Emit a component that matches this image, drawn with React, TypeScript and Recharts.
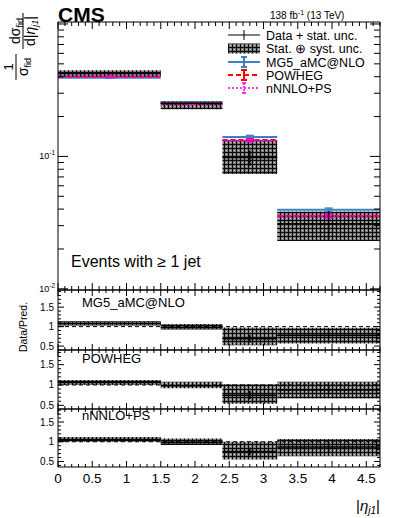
import React from "react"
import {
  ComposedChart,
  XAxis,
  YAxis,
  Scatter,
  ErrorBar,
  ReferenceArea,
  ReferenceLine,
  Legend,
} from "recharts"

const FONT = "'Liberation Sans', Arial, Helvetica, sans-serif"
const W = 399

// bins in |eta_j1|
const binLo = [0, 1.5, 2.4, 3.2]
const binHi = [1.5, 2.4, 3.2, 4.7]

// measured normalised cross section
const dataVal = [0.422, 0.252, 0.098, 0.031]
const dataStat = [0.005, 0.004, 0.013, 0.0075]
const totLo = [0.398, 0.227, 0.0737, 0.023]
const totHi = [0.447, 0.262, 0.1325, 0.0384]

// predictions
const mg5Val = [0.392, 0.255, 0.14, 0.0395]
const mg5Err = [0.003, 0.002, 0.004, 0.0012]
const powhegVal = [0.4, 0.252, 0.133, 0.0356]
const powhegErr = [0.003, 0.002, 0.003, 0.001]
const nnloVal = [0.4, 0.25, 0.132, 0.0354]
const nnloErr = [0.002, 0.002, 0.003, 0.001]

// data / prediction
const ratioMg5 = [1.08, 0.98, 0.69, 0.78]
const ratioMg5Lo = [1.03, 0.925, 0.525, 0.57]
const ratioMg5Hi = [1.14, 1.07, 0.975, 0.97]
const ratioPowheg = [1.06, 0.98, 0.75, 0.88]
const ratioPowhegLo = [1.0, 0.92, 0.54, 0.67]
const ratioPowhegHi = [1.12, 1.08, 1.02, 1.08]
const ratioNnlo = [1.06, 0.98, 0.75, 0.87]
const ratioNnloLo = [1.0, 0.92, 0.55, 0.63]
const ratioNnloHi = [1.12, 1.08, 1.0, 1.07]
const ratioStat = [0.012, 0.016, 0.1, 0.13]

// ticks
const xTicks = Array.from({ length: 48 }, (_, i) => i / 10)
const mainYTicks = [
  0.01, 0.02, 0.03, 0.04, 0.05, 0.06, 0.07, 0.08, 0.09,
  0.1, 0.2, 0.3, 0.4, 0.5, 0.6, 0.7, 0.8, 0.9, 1,
]
const ratioYTicks = [0.4, 0.5, 0.6, 0.7, 0.8, 0.9, 1, 1.1, 1.2, 1.3, 1.4, 1.5, 1.6, 1.7, 1.8, 1.9]

const legendLabels = ["Data + stat. unc.", "Stat. \u2295 syst. unc.", "MG5_aMC@NLO", "POWHEG", "nNNLO+PS"]

const MG5_COLOR = "#3f80c0"
const POWHEG_COLOR = "#ff0000"
const NNLO_COLOR = "#ee00ee"

const isMult = (v: number, step: number) => Math.abs(v / step - Math.round(v / step)) < 1e-6
const fmt = (v: number) => String(Math.round(v * 10) / 10)

function XTick(props: any) {
  const { x, y, payload, side, big, small, labels } = props
  const v = payload.value
  const major = isMult(v, 0.5)
  const d = side === "top" ? 1 : -1
  return (
    <g>
      <line x1={x} x2={x} y1={y} y2={y + d * (major ? big : small)} stroke="#000" />
      {labels && major && (
        <text x={x} y={y + 16} textAnchor="middle" fontSize={13.5} fontFamily={FONT} fill="#000">
          {fmt(v)}
        </text>
      )}
    </g>
  )
}

function LogYTick(props: any) {
  const { x, y, payload, side, labels } = props
  const v = payload.value
  const lg = Math.log10(v)
  const major = Math.abs(lg - Math.round(lg)) < 1e-6
  const d = side === "left" ? 1 : -1
  return (
    <g>
      <line x1={x} x2={x + d * (major ? 10 : 6)} y1={y} y2={y} stroke="#000" />
      {labels && major && v < 0.5 && (
        <text x={x - 3} y={y + 3} textAnchor="end" fontSize={9} fontFamily={FONT} fill="#000">
          10<tspan dy={-4} fontSize={6.5}>{Math.round(lg)}</tspan>
        </text>
      )}
    </g>
  )
}

function RatioYTick(props: any) {
  const { x, y, payload, side, labels } = props
  const v = payload.value
  const major = isMult(v, 0.5)
  const d = side === "left" ? 1 : -1
  return (
    <g>
      <line x1={x} x2={x + d * (major ? 6 : 3)} y1={y} y2={y} stroke="#000" />
      {labels && major && (
        <text x={x - 4} y={y + 3.5} textAnchor="end" fontSize={10} fontFamily={FONT} fill="#000">
          {fmt(v)}
        </text>
      )}
    </g>
  )
}

const Empty = () => <g />

function LegendBox() {
  const rows = [8, 21.5, 35, 48, 61]
  return (
    <svg width={170} height={72} style={{ display: "block" }}>
      {rows.map((ry, i) => (
        <g key={i}>
          {i === 0 && (
            <g stroke="#000">
              <line x1={4} x2={36} y1={ry} y2={ry} />
              <line x1={20} x2={20} y1={ry - 5} y2={ry + 5} />
            </g>
          )}
          {i === 1 && <rect x={4} y={ry - 5} width={32} height={10} fill="url(#statSyst)" />}
          {i === 2 && (
            <g stroke={MG5_COLOR} strokeWidth={2}>
              <line x1={4} x2={36} y1={ry} y2={ry} />
              <line x1={20} x2={20} y1={ry - 5} y2={ry + 5} />
              <line x1={17} x2={23} y1={ry - 5} y2={ry - 5} />
              <line x1={17} x2={23} y1={ry + 5} y2={ry + 5} />
            </g>
          )}
          {i === 3 && (
            <g stroke={POWHEG_COLOR} strokeWidth={2}>
              <line x1={4} x2={36} y1={ry} y2={ry} strokeDasharray="5 3" />
              <line x1={20} x2={20} y1={ry - 5} y2={ry + 5} />
              <line x1={17} x2={23} y1={ry - 5} y2={ry - 5} />
              <line x1={17} x2={23} y1={ry + 5} y2={ry + 5} />
            </g>
          )}
          {i === 4 && (
            <g stroke={NNLO_COLOR} strokeWidth={1.5}>
              <line x1={4} x2={36} y1={ry} y2={ry} strokeDasharray="2 2" />
              <line x1={20} x2={20} y1={ry - 5} y2={ry + 5} strokeDasharray="2 1" />
              <line x1={18} x2={22} y1={ry - 5} y2={ry - 5} />
              <line x1={18} x2={22} y1={ry + 5} y2={ry + 5} />
            </g>
          )}
          <text x={42} y={ry + 4.5} fontSize={12.5} fontFamily={FONT} fill="#000">
            {legendLabels[i]}
          </text>
        </g>
      ))}
    </svg>
  )
}

function MainPlot() {
  const dataPts = binLo.map((lo, i) => ({
    x: (lo + binHi[i]) / 2,
    y: dataVal[i],
    ex: (binHi[i] - lo) / 2,
    ey: dataStat[i],
  }))
  const preds = [
    { val: mg5Val, err: mg5Err, color: MG5_COLOR, dash: undefined, w: 2 },
    { val: powhegVal, err: powhegErr, color: POWHEG_COLOR, dash: "5 3", w: 2 },
    { val: nnloVal, err: nnloErr, color: NNLO_COLOR, dash: "2 2", w: 2 },
  ]
  return (
    <div style={{ position: "absolute", left: 0, top: 0, width: W, height: 300 }}>
      <ComposedChart width={W} height={300} margin={{ top: 21, right: 0, bottom: 0, left: 0 }}>
        <XAxis
          xAxisId="top"
          orientation="top"
          type="number"
          dataKey="x"
          domain={[0, 4.7]}
          ticks={xTicks}
          interval={0}
          height={1}
          tickSize={0}
          tickMargin={0}
          tickLine={false}
          axisLine={{ stroke: "#000" }}
          allowDataOverflow
          tick={(p: any) => <XTick {...p} side="top" big={7} small={4} />}
        />
        <XAxis
          type="number"
          dataKey="x"
          domain={[0, 4.7]}
          ticks={xTicks}
          interval={0}
          height={10}
          tickSize={0}
          tickMargin={0}
          tickLine={false}
          axisLine={{ stroke: "#000" }}
          allowDataOverflow
          tick={(p: any) => <XTick {...p} side="bottom" big={7} small={4} />}
        />
        <YAxis
          type="number"
          dataKey="y"
          scale="log"
          domain={[0.0098, 1.035]}
          ticks={mainYTicks}
          interval={0}
          width={58}
          tickSize={0}
          tickMargin={0}
          tickLine={false}
          axisLine={{ stroke: "#000" }}
          allowDataOverflow
          tick={(p: any) => <LogYTick {...p} side="left" labels />}
        />
        <YAxis
          yAxisId="r"
          orientation="right"
          type="number"
          scale="log"
          domain={[0.0098, 1.035]}
          ticks={mainYTicks}
          interval={0}
          width={19}
          tickSize={0}
          tickMargin={0}
          tickLine={false}
          axisLine={{ stroke: "#000" }}
          allowDataOverflow
          tick={(p: any) => <LogYTick {...p} side="right" />}
        />
        {binLo.map((lo, i) => (
          <ReferenceArea
            key={"box" + i}
            x1={lo}
            x2={binHi[i]}
            y1={totLo[i]}
            y2={totHi[i]}
            fill="url(#statSyst)"
            fillOpacity={1}
            stroke="none"
          />
        ))}
        {preds.map((p, k) =>
          binLo.map((lo, i) => (
            <ReferenceLine
              key={"pl" + k + "-" + i}
              segment={[
                { x: lo, y: p.val[i] },
                { x: binHi[i], y: p.val[i] },
              ]}
              stroke={p.color}
              strokeWidth={p.w}
              strokeDasharray={p.dash}
            />
          ))
        )}
        {preds.map((p, k) => (
          <Scatter
            key={"pe" + k}
            data={binLo.map((lo, i) => ({ x: (lo + binHi[i]) / 2, y: p.val[i], ey: p.err[i] }))}
            shape={Empty}
            isAnimationActive={false}
          >
            <ErrorBar dataKey="ey" direction="y" width={4} stroke={p.color} strokeWidth={1.5} />
          </Scatter>
        ))}
        <Scatter data={dataPts} shape={Empty} isAnimationActive={false}>
          <ErrorBar dataKey="ex" direction="x" width={0} stroke="#000" strokeWidth={1.5} />
          <ErrorBar dataKey="ey" direction="y" width={0} stroke="#000" strokeWidth={1.5} />
        </Scatter>
        <Legend
          layout="vertical"
          align="center"
          verticalAlign="middle"
          wrapperStyle={{ left: 224, top: 27, width: 170, height: 72 }}
          content={() => <LegendBox />}
        />
      </ComposedChart>
    </div>
  )
}

function RatioPanel({ top, height, domain, center, lo, hi, bottomHeight, xLabels }: any) {
  const pts = binLo.map((l, i) => ({
    x: (l + binHi[i]) / 2,
    y: center[i],
    ex: (binHi[i] - l) / 2,
    ey: ratioStat[i],
  }))
  const yTicks = ratioYTicks.filter((t) => t >= domain[0] && t <= domain[1])
  return (
    <div style={{ position: "absolute", left: 0, top, width: W, height }}>
      <ComposedChart width={W} height={height} margin={{ top: 0, right: 0, bottom: 0, left: 0 }}>
        <XAxis
          xAxisId="top"
          orientation="top"
          type="number"
          dataKey="x"
          domain={[0, 4.7]}
          ticks={xTicks}
          interval={0}
          height={1}
          tickSize={0}
          tickMargin={0}
          tickLine={false}
          axisLine={{ stroke: "#000" }}
          allowDataOverflow
          tick={(p: any) => <XTick {...p} side="top" big={6} small={3} />}
        />
        <XAxis
          type="number"
          dataKey="x"
          domain={[0, 4.7]}
          ticks={xTicks}
          interval={0}
          height={bottomHeight}
          tickSize={0}
          tickMargin={0}
          tickLine={false}
          axisLine={{ stroke: "#000" }}
          allowDataOverflow
          tick={(p: any) => <XTick {...p} side="bottom" big={6} small={3} labels={xLabels} />}
        />
        <YAxis
          type="number"
          dataKey="y"
          domain={domain}
          ticks={yTicks}
          interval={0}
          width={58}
          tickSize={0}
          tickMargin={0}
          tickLine={false}
          axisLine={{ stroke: "#000" }}
          allowDataOverflow
          tick={(p: any) => <RatioYTick {...p} side="left" labels />}
        />
        <YAxis
          yAxisId="r"
          orientation="right"
          type="number"
          domain={domain}
          ticks={yTicks}
          interval={0}
          width={19}
          tickSize={0}
          tickMargin={0}
          tickLine={false}
          axisLine={{ stroke: "#000" }}
          allowDataOverflow
          tick={(p: any) => <RatioYTick {...p} side="right" />}
        />
        <ReferenceLine y={1} stroke="#000" strokeDasharray="4 3" />
        {binLo.map((l, i) => (
          <ReferenceArea
            key={"rb" + i}
            x1={l}
            x2={binHi[i]}
            y1={lo[i]}
            y2={hi[i]}
            fill="url(#statSyst)"
            fillOpacity={1}
            stroke="none"
          />
        ))}
        <Scatter data={pts} shape={Empty} isAnimationActive={false}>
          <ErrorBar dataKey="ex" direction="x" width={0} stroke="#000" strokeWidth={1.5} />
          <ErrorBar dataKey="ey" direction="y" width={0} stroke="#000" strokeWidth={1.5} />
        </Scatter>
      </ComposedChart>
    </div>
  )
}

export default function App() {
  return (
    <div
      style={{
        position: "absolute",
        left: 0,
        top: 0,
        width: W,
        height: 518,
        background: "#fff",
        fontFamily: FONT,
      }}
    >
      <svg width={0} height={0} style={{ position: "absolute" }}>
        <defs>
          <pattern id="statSyst" width={4} height={4} patternUnits="userSpaceOnUse">
            <rect width={4} height={4} fill="#7c7c7c" />
            <rect x={2} y={2} width={1} height={1} fill="#cfcfcf" />
            <rect width={4} height={1} fill="#0a0a0a" />
            <rect width={1} height={4} fill="#0a0a0a" />
          </pattern>
        </defs>
      </svg>

      <MainPlot />
      <RatioPanel
        top={289}
        height={62}
        domain={[0.4, 1.94]}
        center={ratioMg5}
        lo={ratioMg5Lo}
        hi={ratioMg5Hi}
        bottomHeight={1}
      />
      <RatioPanel
        top={349}
        height={61}
        domain={[0.41, 1.86]}
        center={ratioPowheg}
        lo={ratioPowhegLo}
        hi={ratioPowhegHi}
        bottomHeight={1}
      />
      <RatioPanel
        top={408}
        height={110}
        domain={[0.36, 1.83]}
        center={ratioNnlo}
        lo={ratioNnloLo}
        hi={ratioNnloHi}
        bottomHeight={51}
        xLabels
      />

      <svg
        width={W}
        height={518}
        style={{ position: "absolute", left: 0, top: 0, pointerEvents: "none" }}
        fontFamily={FONT}
      >
        <text x={58} y={22} fontSize={21} fontWeight="bold" fill="#000">
          CMS
        </text>
        <text x={270} y={19} fontSize={10} fill="#000">
          138 fb<tspan dy={-4} fontSize={7}>-1</tspan>
          <tspan dy={4}> (13 TeV)</tspan>
        </text>
        <g transform="translate(0,70) rotate(-90)" fill="#000">
          <text x={3} y={13} textAnchor="middle" fontSize={13}>
            1
          </text>
          <line x1={-10} x2={16} y1={16} y2={16} stroke="#000" />
          <text x={3} y={28} textAnchor="middle" fontSize={14}>
            σ<tspan fontSize={9} dy={3}>fid</tspan>
          </text>
          <text x={39} y={20} textAnchor="middle" fontSize={14}>
            dσ<tspan fontSize={9} dy={3}>fid</tspan>
          </text>
          <line x1={21} x2={57} y1={23} y2={23} stroke="#000" />
          <text x={39} y={35} textAnchor="middle" fontSize={14}>
            d|<tspan fontStyle="italic">η</tspan>
            <tspan fontSize={9} dy={3} fontStyle="italic">j1</tspan>
            <tspan dy={-3}>|</tspan>
          </text>
        </g>
        <text x={71} y={267} fontSize={16} fill="#000">
          Events with ≥ 1 jet
        </text>
        <text x={82} y={307} fontSize={13} fill="#000">
          MG5_aMC@NLO
        </text>
        <text x={82} y={363} fontSize={13} fill="#000">
          POWHEG
        </text>
        <text x={82} y={420} fontSize={13} fill="#000">
          nNNLO+PS
        </text>
        <text transform="translate(27,327) rotate(-90)" textAnchor="middle" fontSize={10.5} fill="#000">
          Data/Pred.
        </text>
        <text x={380} y={511} textAnchor="end" fontSize={15} fill="#000">
          |<tspan fontStyle="italic">η</tspan>
          <tspan fontSize={10} dy={3} fontStyle="italic">j1</tspan>
          <tspan dy={-3}>|</tspan>
        </text>
      </svg>
    </div>
  )
}
